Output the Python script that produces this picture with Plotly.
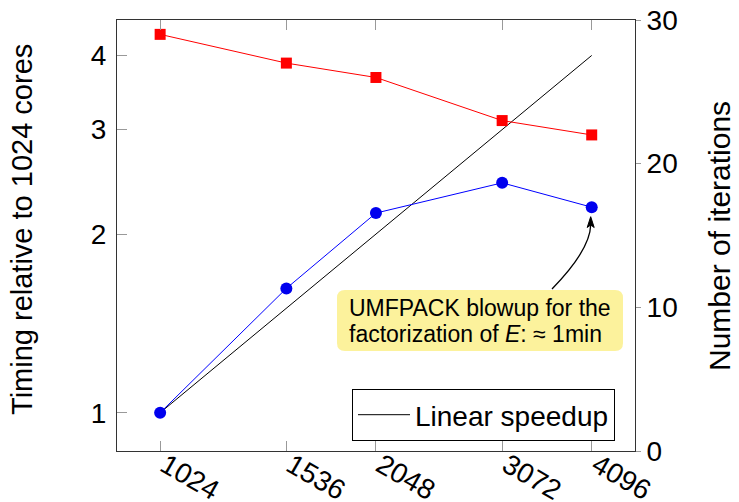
import plotly.graph_objects as go
import numpy as np

cores = [1024, 1536, 2048, 3072, 4096]
timing = [1.0, 1.62, 2.17, 2.44, 2.22]
linear = [1, 1.5, 2, 3, 4]
iterations = [29, 27, 26, 23, 22]
x_ticks = [1024, 1536, 2048, 3072, 4096]
y_ticks = [1, 2, 3, 4]
y2_ticks = [0, 10, 20, 30]

FONT = "Liberation Sans"
OFF = 8  # page body margin
W, H = 739 - OFF, 502 - OFF
L, R, T, B = 117 - OFF, 635 - OFF, 20 - OFF, 451 - OFF


def px(x):
    return (x - OFF - L) / (R - L)


def py(y):
    return (B - (y - OFF)) / (B - T)


fig = go.Figure()
fig.add_trace(go.Scatter(x=cores, y=linear, mode="lines", name="Linear speedup",
                         line=dict(color="black", width=1), yaxis="y"))
fig.add_trace(go.Scatter(x=cores, y=timing, mode="lines+markers", showlegend=False,
                         line=dict(color="#0000ff", width=1),
                         marker=dict(symbol="circle", size=12, color="#0000ee"), yaxis="y"))
fig.add_trace(go.Scatter(x=cores, y=iterations, mode="lines+markers", showlegend=False,
                         line=dict(color="#ff0000", width=1),
                         marker=dict(symbol="square", size=11, color="#ff0000"), yaxis="y2"))

# rounded annotation box
x0, x1, y0, y1 = px(337), px(623), py(351), py(290)
rx, ry = 8 / (R - L), 8 / (B - T)
box = (f"M {x0+rx},{y1} L {x1-rx},{y1} Q {x1},{y1} {x1},{y1-ry} L {x1},{y0+ry} "
       f"Q {x1},{y0} {x1-rx},{y0} L {x0+rx},{y0} Q {x0},{y0} {x0},{y0+ry} "
       f"L {x0},{y1-ry} Q {x0},{y1} {x0+rx},{y1} Z")
curve = f"M {px(552)},{py(289)} Q {px(590)},{py(250)} {px(590.7)},{py(225)}"
head = (f"M {px(590.7)},{py(216.7)} L {px(594.2)},{py(227.5)} "
        f"L {px(590.7)},{py(225)} L {px(587.2)},{py(227.5)} Z")

fig.update_layout(
    width=W, height=H,
    margin=dict(l=L, r=W - R, t=T, b=H - B, autoexpand=False),
    paper_bgcolor="white", plot_bgcolor="white",
    font=dict(family=FONT, size=28, color="black"),
    xaxis=dict(type="log", range=[np.log10(891.5), np.log10(4707)],
               tickvals=x_ticks, ticktext=[str(v) for v in x_ticks],
               tickangle=30, ticks="inside", ticklen=10, tickcolor="#999999",
               showline=True, linecolor="#333333", linewidth=1, mirror="ticks",
               showgrid=False, zeroline=False, tickfont=dict(size=28),
               ticklabelstandoff=-14, ticklabelshift=5, ticklabeloverflow="allow"),
    yaxis=dict(type="log", range=[np.log10(0.862), np.log10(4.59)],
               tickvals=y_ticks, ticktext=[str(v) for v in y_ticks],
               ticks="inside", ticklen=10, tickcolor="#999999",
               showline=True, linecolor="#333333", linewidth=1,
               showgrid=False, zeroline=False, ticklabelstandoff=4,
               ticklabeloverflow="allow"),
    yaxis2=dict(range=[0, 30], overlaying="y", side="right",
                tickvals=y2_ticks, ticks="outside", ticklen=5, tickcolor="#999999",
                showline=True, linecolor="#333333", linewidth=1,
                showgrid=False, zeroline=False, ticklabelstandoff=0,
                ticklabeloverflow="allow"),
    legend=dict(x=px(352), y=py(389), xanchor="left", yanchor="top",
                bordercolor="black", borderwidth=1, bgcolor="white",
                font=dict(size=28), tracegroupgap=0, itemwidth=52),
    shapes=[
        dict(type="path", path=box, xref="paper", yref="paper",
             fillcolor="#fcf29c", line=dict(width=0), layer="above"),
        dict(type="path", path=curve, xref="paper", yref="paper",
             line=dict(color="black", width=1.3), layer="above"),
        dict(type="path", path=head, xref="paper", yref="paper",
             fillcolor="black", line=dict(color="black", width=1), layer="above"),
    ],
    annotations=[
        dict(text="UMFPACK blowup for the",
             x=px(347), y=py(308), xref="paper", yref="paper",
             xanchor="left", yanchor="middle", align="left", showarrow=False,
             font=dict(size=23, family=FONT)),
        dict(text="factorization of <i>E</i>: \u2248 1min",
             x=px(347), y=py(334), xref="paper", yref="paper",
             xanchor="left", yanchor="middle", align="left", showarrow=False,
             font=dict(size=23, family=FONT)),
        dict(text="Timing relative to 1024 cores", textangle=-90,
             x=px(22), y=py(230), xref="paper", yref="paper",
             xanchor="center", yanchor="middle", showarrow=False,
             font=dict(size=29)),
        dict(text="Number of iterations", textangle=-90,
             x=px(719), y=py(236), xref="paper", yref="paper",
             xanchor="center", yanchor="middle", showarrow=False,
             font=dict(size=30)),
    ],
)

fig.write_html("out.html")
